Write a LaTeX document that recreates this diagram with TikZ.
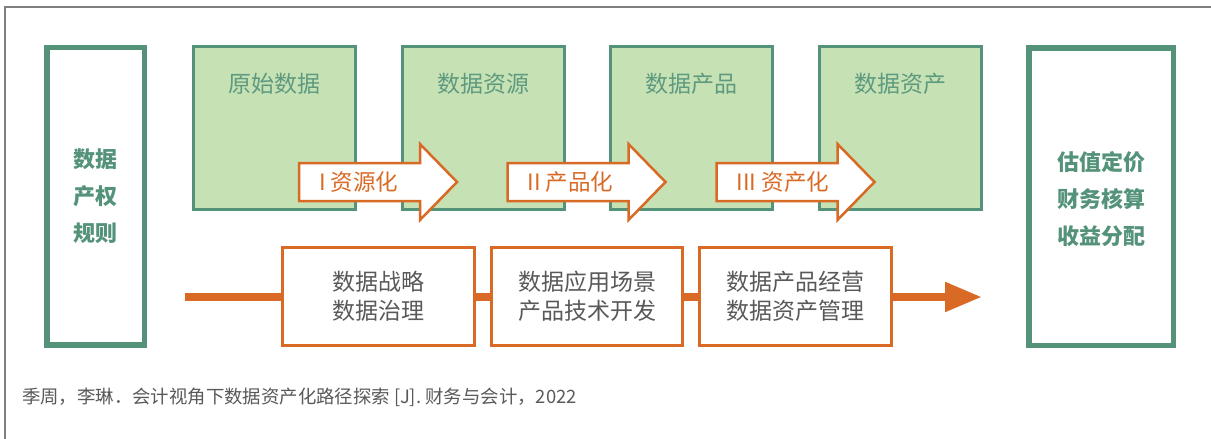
\documentclass[tikz,border=0pt]{standalone}
\usepackage{fontspec}
\setmainfont{Noto Sans CJK SC}
\usetikzlibrary{arrows.meta}
\definecolor{gborder}{HTML}{54937A}
\definecolor{gfill}{HTML}{C6E1B3}
\definecolor{gtxt}{HTML}{5E9A80}
\definecolor{orng}{HTML}{D86A25}
\definecolor{dtxt}{HTML}{595959}
\definecolor{frame}{HTML}{7F7F7F}
\tikzset{
  sidebox/.style={draw=gborder, line width=5.5pt, fill=white, inner sep=0pt},
  sidetext/.style={inner sep=0pt, align=center, text=gborder, font=\bfseries\fontsize{22}{37}\selectfont},
  gbox/.style={draw=gborder, line width=3pt, fill=gfill, inner sep=0pt,
    minimum width=162pt, minimum height=163pt},
  gtext/.style={text=gtxt, font=\fontsize{23}{28}\selectfont, inner sep=0pt},
  blockarrow/.style={draw=orng, line width=2.5pt, fill=white, line join=miter},
  atext/.style={text=orng, font=\fontsize{22.5}{28}\selectfont, inner sep=0pt, anchor=west},
  obox/.style={draw=orng, line width=3pt, fill=white, inner sep=0pt,
    minimum height=98pt, align=center, text=dtxt, font=\fontsize{23}{29}\selectfont},
  flow/.style={draw=orng, line width=8pt},
}
\begin{document}
\begin{tikzpicture}[x=1pt,y=-1pt]
\useasboundingbox (0,0) rectangle (1211,439);
% frame
\draw[frame, line width=1.6pt] (5,439) -- (5,7) -- (1211,7);

% side boxes
\node[sidebox, minimum width=97.5pt, minimum height=297.5pt] (left) at (95.5,196) {};
\node[sidetext] (leftt) at ([yshift=-0.5pt]left.center) {数据\\产权\\规则};
\node[sidebox, minimum width=144.5pt, minimum height=297.5pt] (right) at (1101,196.5) {};
\node[sidetext] (rightt) at ([yshift=-3pt]right.center) {估值定价\\财务核算\\收益分配};

% green boxes
\node[gbox] (g1) at (274.5,128) {};
\node[gbox] (g2) at (483,128) {};
\node[gbox] (g3) at (691.5,128) {};
\node[gbox] (g4) at (900.5,128) {};
\node[gtext] (g1t) at ([yshift=-39pt]g1.north) {原始数据};
\node[gtext] (g2t) at ([yshift=-39pt]g2.north) {数据资源};
\node[gtext] (g3t) at ([yshift=-39pt]g3.north) {数据产品};
\node[gtext] (g4t) at ([yshift=-39pt]g4.north) {数据资产};

% block arrows
\foreach \dx/\nm/\lab in {0/a1/{I 资源化}, 208.5/a2/{II 产品化}, 417.5/a3/{III 资产化}}{
  \begin{scope}[xshift=\dx pt]
    \draw[blockarrow] (299,163) -- (420,163) -- (420,144) -- (457,182) -- (420,220) -- (420,201) -- (299,201) -- cycle;
    \node[atext] (\nm) at (319,182) {\lab};
  \end{scope}
}

% bottom flow
\coordinate (fs) at (185,297);
\coordinate (fe) at (982,297);
\draw[flow, -{Triangle[length=37pt,width=28pt]}] (fs) -- (fe);
\node[obox, minimum width=192pt] (b1) at (378.5,296.5) {数据战略\\数据治理};
\node[obox, minimum width=191pt] (b2) at (587,296.5) {数据应用场景\\产品技术开发};
\node[obox, minimum width=192pt] (b3) at (795.5,296.5) {数据产品经营\\数据资产管理};

% citation
\node[anchor=west, inner sep=0pt, text=dtxt, font=\fontsize{18.4}{22}\selectfont] (cite) at (22,397) {季周，李琳．会计视角下数据资产化路径探索 [J]. 财务与会计，2022};
\end{tikzpicture}
\end{document}
